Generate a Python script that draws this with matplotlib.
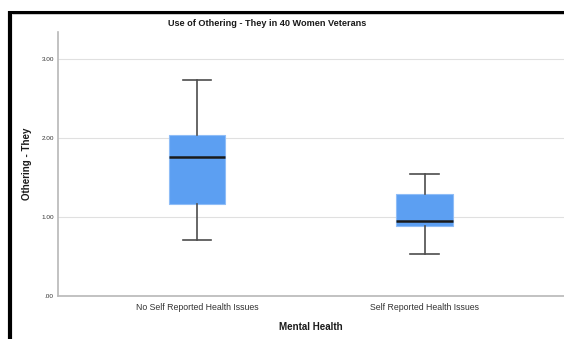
import matplotlib
matplotlib.use("Agg")
import matplotlib.pyplot as plt
from matplotlib.lines import Line2D

# Summary statistics of the "Othering - They" score by mental-health group
groups = ["No Self Reported Health Issues", "Self Reported Health Issues"]
whisker_low = [0.705, 0.535]
q1 = [1.17, 0.88]
median = [1.755, 0.953]
q3 = [2.04, 1.29]
whisker_high = [2.73, 1.54]

y_ticks = [0.0, 1.0, 2.0, 3.0]
y_tick_labels = [".00", "1.00", "2.00", "3.00"]

W, H, DPI = 564, 339, 100
fig = plt.figure(figsize=(W / DPI, H / DPI), dpi=DPI)
fig.patch.set_facecolor("white")

ax_left, ax_right, ax_top, ax_bottom = 58, 564, 32, 296
ax = fig.add_axes([ax_left / W, 1 - ax_bottom / H,
                   (ax_right - ax_left) / W, (ax_bottom - ax_top) / H])

stats = [
    dict(med=m, q1=a, q3=b, whislo=lo, whishi=hi, fliers=[], label=g)
    for g, lo, a, m, b, hi in zip(groups, whisker_low, q1, median, q3, whisker_high)
]

ax.bxp(
    stats,
    positions=[1, 2],
    widths=0.25,
    patch_artist=True,
    showfliers=False,
    boxprops=dict(facecolor="#5c9ff2", edgecolor="#8fbdf7", linewidth=0.8),
    medianprops=dict(color="#1a1a1a", linewidth=1.8),
    whiskerprops=dict(color="#4d4d4d", linewidth=1.2),
    capprops=dict(color="#4d4d4d", linewidth=1.2),
    capwidths=0.126,
    zorder=3,
)

ax.set_xlim(0.389, 2.613)
ax.set_ylim(0, 3.342)

ax.set_yticks(y_ticks)
ax.set_yticklabels(y_tick_labels, fontsize=4.6, color="#333333",
                   family="Liberation Sans")
ax.set_xticks([1, 2])
ax.set_xticklabels(groups, fontsize=6.3, color="#333333",
                   family="Liberation Sans")
ax.tick_params(axis="y", length=0, pad=3)
ax.tick_params(axis="x", length=0, pad=5)

ax.yaxis.grid(True, color="#e0e0e0", linewidth=0.8, zorder=0)
ax.set_axisbelow(True)

for side in ("top", "right"):
    ax.spines[side].set_visible(False)
for side in ("left", "bottom"):
    ax.spines[side].set_color("#b8b8b8")
    ax.spines[side].set_linewidth(1.2)

ax.set_xlabel("Mental Health", fontsize=7, fontweight="bold",
              family="Liberation Sans", color="#1a1a1a", labelpad=7)
ax.set_ylabel("Othering - They", fontsize=7, fontweight="bold",
              family="Liberation Sans", color="#1a1a1a")
ax.yaxis.set_label_coords((32 - ax_left) / (ax_right - ax_left), 0.5)

fig.text(267 / W, 1 - 24 / H, "Use of Othering - They in 40 Women Veterans",
         ha="center", va="center", fontsize=6.6, fontweight="bold",
         family="Liberation Sans", color="#1a1a1a")

# Heavy frame on the left and top edges of the chart panel
fig.add_artist(Line2D([9.5 / W, 9.5 / W], [0, 1 - 10.7 / H],
                      transform=fig.transFigure, color="black", linewidth=3.0,
                      solid_capstyle="butt"))
fig.add_artist(Line2D([7.5 / W, 1], [1 - 12.1 / H, 1 - 12.1 / H],
                      transform=fig.transFigure, color="black", linewidth=2.2,
                      solid_capstyle="butt"))
fig.add_artist(Line2D([11.5 / W, 1], [1 - 14.4 / H, 1 - 14.4 / H],
                      transform=fig.transFigure, color="#c8c8c8", linewidth=0.7,
                      solid_capstyle="butt"))

fig.savefig("out.png", dpi=DPI)
